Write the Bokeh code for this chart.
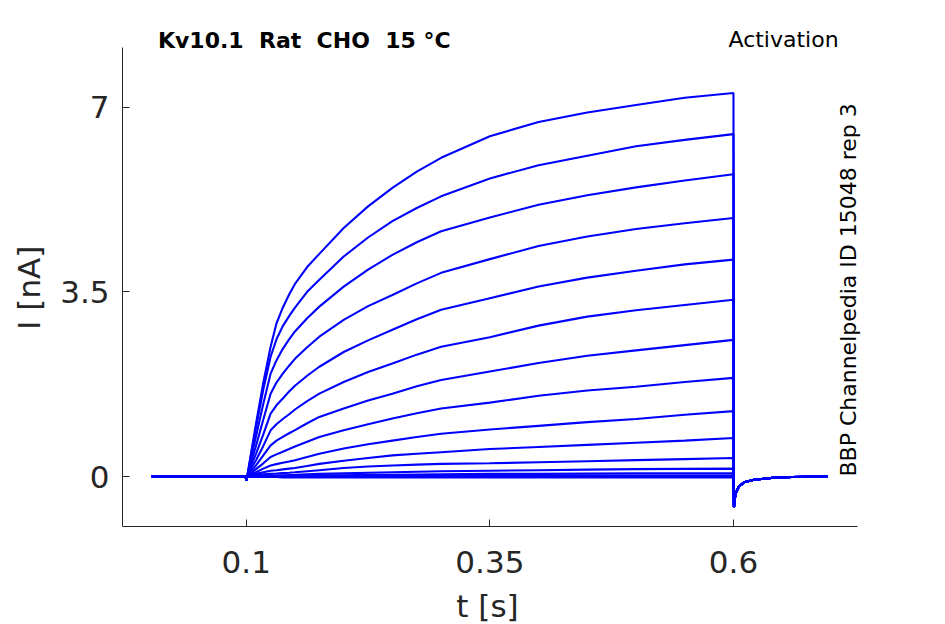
from bokeh.plotting import figure
from bokeh.models import Range1d, Label, FixedTicker
from bokeh.embed import file_html
from bokeh.resources import INLINE

# ---- data ----
x_ticks = [0.1, 0.35, 0.6]
x_tick_labels = ["0.1", "0.35", "0.6"]
y_ticks = [0, 3.5, 7]
y_tick_labels = ["0", "3.5", "7"]
x_limits = [-0.027, 0.727]
y_limits = [-0.948, 8.14]

# holding period before the step (shared by all sweeps)
t_pre = [0.003, 0.0995, 0.1]
i_pre = [0.0, 0.0, -0.08]

# during the depolarising step
t_step = [0.101, 0.105, 0.11, 0.1175, 0.125, 0.131, 0.1375, 0.144, 0.15, 0.1625, 0.175, 0.2,
          0.225, 0.25, 0.275, 0.3, 0.35, 0.4, 0.45, 0.5, 0.55, 0.6]

sweep_01 = [0, 0.45, 1.0, 1.78, 2.46, 2.9, 3.2, 3.45, 3.65, 3.97, 4.22, 4.71, 5.12, 5.47, 5.78, 6.04, 6.45, 6.72, 6.9, 7.04, 7.18, 7.27]
sweep_02 = [0, 0.42, 0.92, 1.65, 2.27, 2.6, 2.85, 3.04, 3.2, 3.5, 3.73, 4.17, 4.53, 4.84, 5.09, 5.31, 5.65, 5.9, 6.08, 6.26, 6.38, 6.49]
sweep_03 = [0, 0.36, 0.76, 1.38, 1.95, 2.2, 2.42, 2.6, 2.75, 3.0, 3.22, 3.6, 3.92, 4.2, 4.44, 4.65, 4.91, 5.15, 5.33, 5.48, 5.61, 5.73]
sweep_04 = [0, 0.28, 0.58, 1.08, 1.57, 1.78, 1.95, 2.1, 2.23, 2.45, 2.65, 2.97, 3.23, 3.44, 3.66, 3.86, 4.12, 4.37, 4.55, 4.69, 4.8, 4.9]
sweep_05 = [0, 0.21, 0.43, 0.8, 1.19, 1.35, 1.48, 1.61, 1.72, 1.91, 2.08, 2.36, 2.58, 2.78, 2.98, 3.16, 3.38, 3.6, 3.77, 3.9, 4.02, 4.11]
sweep_06 = [0, 0.15, 0.31, 0.58, 0.875, 0.99, 1.09, 1.18, 1.27, 1.43, 1.57, 1.79, 1.98, 2.14, 2.31, 2.46, 2.64, 2.86, 3.03, 3.15, 3.25, 3.35]
sweep_07 = [0, 0.1, 0.21, 0.4, 0.59, 0.68, 0.75, 0.82, 0.88, 1.01, 1.13, 1.29, 1.44, 1.57, 1.71, 1.83, 1.99, 2.15, 2.29, 2.39, 2.49, 2.59]
sweep_08 = [0, 0.07, 0.14, 0.25, 0.37, 0.42, 0.47, 0.52, 0.57, 0.66, 0.75, 0.875, 0.99, 1.1, 1.2, 1.29, 1.4, 1.53, 1.63, 1.7, 1.79, 1.87]
sweep_09 = [0, 0.04, 0.08, 0.15, 0.21, 0.235, 0.26, 0.285, 0.31, 0.37, 0.43, 0.53, 0.61, 0.68, 0.75, 0.81, 0.89, 0.96, 1.03, 1.09, 1.17, 1.24]
sweep_10 = [0, 0.02, 0.05, 0.08, 0.11, 0.12, 0.135, 0.15, 0.16, 0.2, 0.24, 0.3, 0.35, 0.4, 0.43, 0.46, 0.52, 0.56, 0.6, 0.64, 0.68, 0.73]
sweep_11 = [0, 0.01, 0.03, 0.04, 0.05, 0.057, 0.065, 0.072, 0.08, 0.1, 0.12, 0.16, 0.19, 0.21, 0.225, 0.24, 0.25, 0.27, 0.29, 0.31, 0.33, 0.35]
sweep_12 = [0, 0.005, 0.01, 0.015, 0.02, 0.022, 0.025, 0.028, 0.03, 0.04, 0.05, 0.06, 0.07, 0.08, 0.09, 0.1, 0.11, 0.12, 0.13, 0.14, 0.145, 0.15]
sweep_13 = [0, 0, 0.005, 0.005, 0.01, 0.01, 0.01, 0.01, 0.01, 0.015, 0.02, 0.025, 0.03, 0.03, 0.035, 0.04, 0.05, 0.05, 0.055, 0.06, 0.06, 0.06]
sweep_14 = [0, 0, 0, 0, 0.005, 0.005, 0.005, 0.005, 0.005, 0.01, 0.01, 0.01, 0.01, 0.015, 0.015, 0.015, 0.02, 0.02, 0.02, 0.02, 0.02, 0.02]
sweep_15 = [0, 0, 0, 0, 0, 0, 0, 0, 0, 0, 0, 0, 0, 0, 0, 0, 0, 0, 0, 0, 0, 0]
sweep_16 = [0, -0.01, -0.01, -0.01, -0.01, -0.01, -0.02, -0.02, -0.02, -0.02, -0.02, -0.02, -0.02, -0.02, -0.02, -0.02, -0.02, -0.02, -0.02, -0.02, -0.02, -0.02]

sweeps = [sweep_01, sweep_02, sweep_03, sweep_04, sweep_05, sweep_06, sweep_07, sweep_08,
          sweep_09, sweep_10, sweep_11, sweep_12, sweep_13, sweep_14, sweep_15, sweep_16]

# tail after repolarisation (shared)
t_tail = [0.6005, 0.602, 0.6055, 0.611, 0.621, 0.641, 0.66, 0.697]
i_tail = [-0.58, -0.33, -0.19, -0.11, -0.06, -0.025, -0.01, 0.0]

# ---- figure ----
TXT = "#262626"
FONT = "DejaVu Sans"
NB = "\u00a0"

# the plotting frame spans the whole canvas; the axes are pinned at the data limits
p = figure(width=945, height=624, output_backend="svg", toolbar_location=None,
           x_range=Range1d(-0.1522, 0.8176), y_range=Range1d(-2.805, 9.022),
           min_border=0)
p.outline_line_color = None
p.grid.visible = False
p.background_fill_color = "white"
p.border_fill_color = "white"

for s in sweeps:
    xs = t_pre + t_step + t_tail
    ys = i_pre + s + i_tail
    p.line(xs, ys, line_color="#0000FF", line_width=2.1)

for ax in (p.xaxis, p.yaxis):
    ax.axis_line_color = TXT
    ax.axis_line_width = 1
    ax.major_tick_line_color = TXT
    ax.major_tick_in = 7
    ax.major_tick_out = 0
    ax.minor_tick_line_color = None
    ax.major_label_text_font = FONT
    ax.major_label_text_font_size = "31px"
    ax.major_label_text_color = TXT

p.xaxis.fixed_location = y_limits[0]
p.xaxis.bounds = (x_limits[0], x_limits[1])
p.xaxis.ticker = FixedTicker(ticks=x_ticks)
p.xaxis.major_label_overrides = {v: s for v, s in zip(x_ticks, x_tick_labels)}
p.xaxis.major_label_standoff = 24
p.yaxis.fixed_location = x_limits[0]
p.yaxis.bounds = (y_limits[0], y_limits[1])
p.yaxis.ticker = FixedTicker(ticks=y_ticks)
p.yaxis.major_label_overrides = {v: s for v, s in zip(y_ticks, y_tick_labels)}
p.yaxis.major_label_standoff = 13

title_text = "Kv10.1" + NB + " Rat" + NB + " CHO" + NB + " 15 °C"

p.add_layout(Label(x=0.3476, y=-2.45, text="t [s]", text_font=FONT, text_font_size="31px",
                   text_color=TXT, text_align="center", text_baseline="middle"))
p.add_layout(Label(x=-0.1234, y=3.58, text="I [nA]", text_font=FONT, text_font_size="31px",
                   text_color=TXT, text_align="center", text_baseline="middle", angle=1.5708))
p.add_layout(Label(x=0.0094, y=8.27, text=title_text, text_font=FONT,
                   text_font_size="22px", text_font_style="bold", text_color="black",
                   text_align="left", text_baseline="alphabetic"))
p.add_layout(Label(x=0.6514, y=8.285, text="Activation", text_font=FONT,
                   text_font_size="22px", text_color="black",
                   text_align="center", text_baseline="alphabetic"))
p.add_layout(Label(x=0.7183, y=0.0, text="BBP Channelpedia ID 15048 rep 3", text_font=FONT,
                   text_font_size="22px", text_color="black", angle=1.5708,
                   text_align="left", text_baseline="alphabetic"))

open("out.html", "w").write(file_html(p, INLINE))
